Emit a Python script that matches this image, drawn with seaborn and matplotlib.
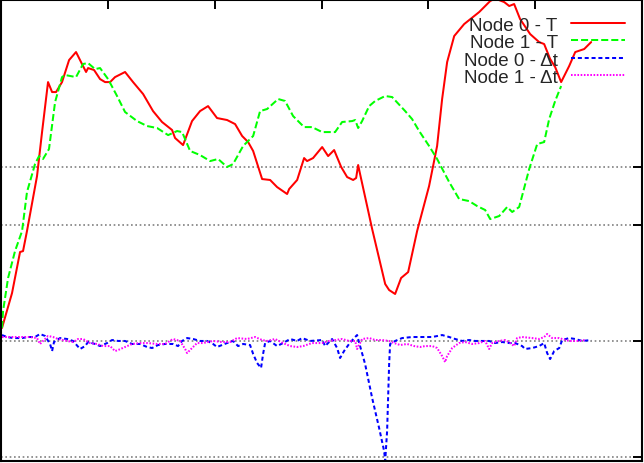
import numpy as np
import seaborn as sns
import matplotlib
matplotlib.use("Agg")
import matplotlib.pyplot as plt

# Node 0 - T
node0_t_x = [0.9, 10.3, 17.8, 20.6, 24.3, 33.7, 38.4, 44.0, 47.8, 51.5, 57.1, 63.7, 70.2,
             75.8, 79.6, 81.5, 87.1, 92.7, 97.4, 102.1, 106.7, 116.1, 123.6, 133.0, 142.3,
             150.7, 160.1, 162.9, 170.4, 178.8, 186.3, 193.8, 202.2, 211.6, 219.1, 225.7,
             231.3, 236.0, 244.4, 251.9, 258.4, 267.8, 269.7, 277.2, 283.7, 286.5, 292.1,
             300.6, 306.2, 311.8, 318.4, 324.0, 329.6, 332.4, 334.3, 336.1, 342.7, 347.4,
             359.6, 363.3, 368.9, 374.5, 381.1, 389.5, 400.7, 408.2, 412.9, 417.6, 424.2,
             433.5, 447.6, 457.9, 462.5, 471.0, 475.7, 480.3, 485.9, 495.3, 503.7, 508.4,
             514.0, 518.7, 524.3, 531.8, 537.5, 545.9, 552.4]
node0_t = [1.15, 4.16, 7.70, 7.78, 9.51, 14.25, 18.04, 22.35, 21.49, 21.49, 22.35, 24.25, 24.94,
           23.91, 23.22, 23.56, 23.39, 22.61, 22.35, 22.35, 22.78, 23.22, 22.35, 21.32, 19.85,
           18.91, 18.22, 17.53, 16.92, 18.99, 19.85, 20.28, 19.25, 19.08, 18.73, 17.70,
           17.18, 16.41, 13.99, 13.91, 13.30, 12.70, 13.13, 13.91, 15.80, 15.54, 15.80,
           16.75, 15.97, 16.49, 15.03, 14.16, 13.91, 14.08, 15.20, 14.42, 11.66, 9.68,
           4.94, 4.42, 4.08, 5.46, 5.97, 9.51, 13.39, 16.84, 20.89, 24.08, 26.32,
           27.35, 28.39, 29.34, 29.55, 29.25, 28.91, 29.08, 27.78, 26.49, 25.80, 25.63,
           24.34, 23.65, 22.35, 23.73, 24.94, 25.20, 25.80]

# Node 1 - T
node1_t_x = [0.9, 1.9, 6.6, 13.1, 19.7, 24.3, 31.8, 35.6, 39.3, 44.9, 50.6, 57.1, 59.9, 70.2,
             76.8, 81.5, 88.0, 92.7, 100.2, 108.6, 116.1, 127.3, 136.7, 146.1, 156.4, 164.8,
             169.5, 177.0, 186.3, 195.7, 203.2, 211.6, 217.2, 226.6, 236.0, 242.5, 249.1,
             259.4, 265.9, 273.4, 283.7, 291.1, 300.6, 312.7, 319.3, 328.7, 331.5, 334.3,
             338.0, 344.6, 350.2, 359.6, 366.1, 378.3, 384.8, 391.4, 400.7, 408.2, 419.5,
             428.8, 438.2, 445.7, 453.2, 457.9, 466.3, 473.8, 478.5, 485.0, 494.4, 501.9,
             508.4, 513.1, 518.7, 524.3]
node1_t = [1.15, 2.61, 5.46, 7.78, 9.51, 12.87, 15.28, 15.97, 15.72, 16.58, 20.63, 22.78, 22.96,
           22.78, 23.91, 23.99, 23.47, 23.56, 22.61, 21.15, 19.77, 18.99, 18.56, 18.39, 17.78,
           18.13, 18.04, 16.41, 16.06, 15.54, 15.72, 15.03, 15.28, 16.84, 17.70, 19.85, 20.03,
           20.89, 20.72, 19.42, 18.47, 18.47, 18.04, 18.04, 18.91, 18.99, 19.08, 18.39,
           18.99, 20.28, 20.72, 21.15, 21.06, 19.85, 19.16, 18.13, 16.84, 15.72, 13.73,
           12.27, 12.09, 11.66, 11.32, 10.54, 10.80, 11.58, 11.15, 11.58, 14.85, 17.01,
           17.18, 19.16, 20.72, 22.01]

# Node 0 - delta t
node0_dt_x = [0.9, 5.6, 11.2, 19.7, 25.3, 31.8, 36.5, 41.2, 45.9, 47.8, 49.6, 55.2, 61.8, 67.4,
              74.0, 78.7, 81.5, 88.0, 92.7, 99.3, 103.9, 109.6, 116.1, 122.7, 130.1, 136.7,
              141.4, 147.0, 153.6, 161.0, 165.7, 169.5, 174.2, 179.8, 186.3, 192.9, 198.5,
              202.2, 211.6, 217.2, 221.9, 226.6, 233.1, 236.0, 239.7, 243.4, 245.3, 247.2,
              251.9, 258.4, 264.0, 270.6, 277.2, 281.8, 289.3, 300.6, 303.4, 309.9, 314.6,
              317.4, 321.1, 325.8, 330.5, 333.3, 336.1, 340.8, 347.4, 353.9, 358.6, 359.6,
              361.4, 363.3, 364.2, 368.9, 375.5, 384.8, 394.2, 403.6, 412.9, 419.5, 425.1,
              431.6, 438.2, 443.8, 450.4, 456.9, 462.5, 469.1, 475.7, 481.3, 487.8, 490.6,
              497.2, 503.7, 508.4, 511.2, 514.0, 517.8, 522.5, 525.3, 531.8, 537.5, 544.0,
              552.4]
node0_dt = [0.54, 0.37, 0.28, 0.28, 0.37, 0.37, 0.63, 0.46, -0.23, -0.84, -0.06, 0.28, 0.20, 0.03,
            -0.66, -0.41, -0.06, -0.23, -0.41, -0.15, 0.11, 0.03, 0.03, -0.23, -0.23, -0.49,
            -0.58, -0.32, -0.23, -0.23, -0.41, 0.03, 0.28, 0.20, 0.03, 0.03, -0.23,
            -0.49, -0.15, 0.03, -0.41, -0.23, -0.32, -1.09, -1.87, -2.30, -1.09, -0.15,
            0.03, -0.41, -0.15, 0.20, 0.03, 0.28, 0.03, 0.11, -0.41, 0.20, -0.58,
            -1.44, -0.84, -0.23, 0.28, 0.54, -0.41, -1.96, -4.89, -7.47, -9.46, -10.32,
            -7.73, -1.96, -0.23, 0.03, 0.28, 0.37, 0.37, 0.37, 0.54, 0.37, 0.20,
            0.03, 0.11, 0.03, 0.03, 0.03, -0.15, -0.06, -0.15, -0.15, -0.41, -0.66,
            -0.58, -0.41, -0.15, -1.01, -1.53, -0.84, -0.58, 0.11, 0.28, 0.20, 0.03,
            0.11]

# Node 1 - delta t
node1_dt_x = [0.9, 8.4, 17.8, 27.1, 33.7, 36.5, 39.3, 44.0, 48.7, 53.4, 61.8, 67.4, 72.1, 76.8,
              83.3, 89.9, 95.5, 102.1, 106.7, 109.6, 116.1, 122.7, 130.1, 137.6, 146.1, 153.6,
              161.0, 167.6, 172.3, 174.2, 178.8, 183.5, 189.1, 198.5, 206.9, 214.4, 220.9,
              230.3, 237.8, 244.4, 249.1, 256.5, 264.0, 270.6, 277.2, 282.8, 291.1, 300.6,
              307.1, 312.7, 319.3, 325.8, 331.5, 333.3, 338.0, 344.6, 350.2, 356.8, 363.3,
              368.0, 373.6, 380.1, 386.7, 392.3, 397.0, 403.6, 408.2, 412.9, 415.7, 417.6,
              422.3, 428.8, 434.4, 441.0, 447.6, 453.2, 456.9, 459.7, 466.3, 471.9, 476.6,
              480.3, 483.1, 487.8, 497.2, 503.7, 508.4, 511.2, 515.9, 522.5, 525.3, 531.8,
              541.2, 546.8]
node1_dt = [0.37, 0.37, 0.37, 0.37, 0.28, -0.23, 0.03, 0.46, 0.37, 0.20, 0.03, -0.06, 0.20, 0.20,
            -0.15, -0.23, -0.41, -0.41, -0.84, -0.75, -0.49, -0.23, -0.15, -0.15, -0.23, -0.23,
            0.20, 0.03, -0.66, -1.01, -0.58, -0.15, -0.15, 0.03, -0.06, -0.06, 0.28,
            0.20, 0.37, 0.11, 0.03, 0.20, -0.15, -0.41, -0.49, -0.41, -0.15, -0.15,
            0.03, 0.11, 0.20, 0.03, 0.03, -0.66, 0.20, 0.28, 0.11, 0.11, 0.03,
            -0.15, -0.32, -0.23, -0.41, -0.49, -0.41, -0.41, -0.58, -1.27, -1.79, -1.27,
            -0.58, -0.15, -0.06, -0.23, -0.15, 0.03, -0.66, -0.15, 0.03, 0.11, -0.15,
            -0.41, 0.28, 0.37, 0.28, 0.20, 0.37, 0.63, 0.28, 0.28, 0.20, 0.03,
            0.03, 0.11]

x_ticks = [100, 200, 300, 400, 500]
y_ticks = [-10, 0, 10, 15]

sns.set_style("white")
plt.rcParams['font.family'] = ['Liberation Sans', 'DejaVu Sans']

fig = plt.figure(figsize=(6.44, 4.64), dpi=100)
ax = fig.add_axes([0.0016, 0.0043, 0.9953, 0.9946])

series = [
    (node0_t_x, node0_t, 'Node 0 - T', '#ff0000', '-'),
    (node1_t_x, node1_t, 'Node 1 - T', '#00ff00', (0, (3.5, 1.5))),
    (node0_dt_x, node0_dt, 'Node 0 - \u0394t', '#0000ff', (0, (2, 1.4))),
    (node1_dt_x, node1_dt, 'Node 1 - \u0394t', '#ff00ff', (0, (0.8, 0.8))),
]
for xs, ys, lab, col, ls in series:
    sns.lineplot(x=np.array(xs), y=np.array(ys), ax=ax, color=col, linestyle=ls,
                 linewidth=1.45, label=lab, legend=False)

ax.set_xlim(0, 600)
ax.set_ylim(-10.32, 29.47)
ax.set_xticks(x_ticks)
ax.set_yticks(y_ticks)
ax.set_xlabel('')
ax.set_ylabel('')
ax.tick_params(direction='in', length=6.5, width=1.4, top=True, right=True,
               labelleft=False, labelbottom=False, color='black')
for sp in ax.spines.values():
    sp.set_linewidth(1.5)
    sp.set_color('black')
ax.yaxis.grid(True, color='#808080', linestyle=(0, (1, 1.6)), linewidth=1.2)
ax.xaxis.grid(False)
ax.set_axisbelow(True)

ax.legend(loc='upper right', frameon=False, markerfirst=False, fontsize=13.5,
          handlelength=2.9, handletextpad=0.7, labelspacing=0.02,
          borderaxespad=0.6, borderpad=0.3)

fig.savefig('out.png', dpi=100)
